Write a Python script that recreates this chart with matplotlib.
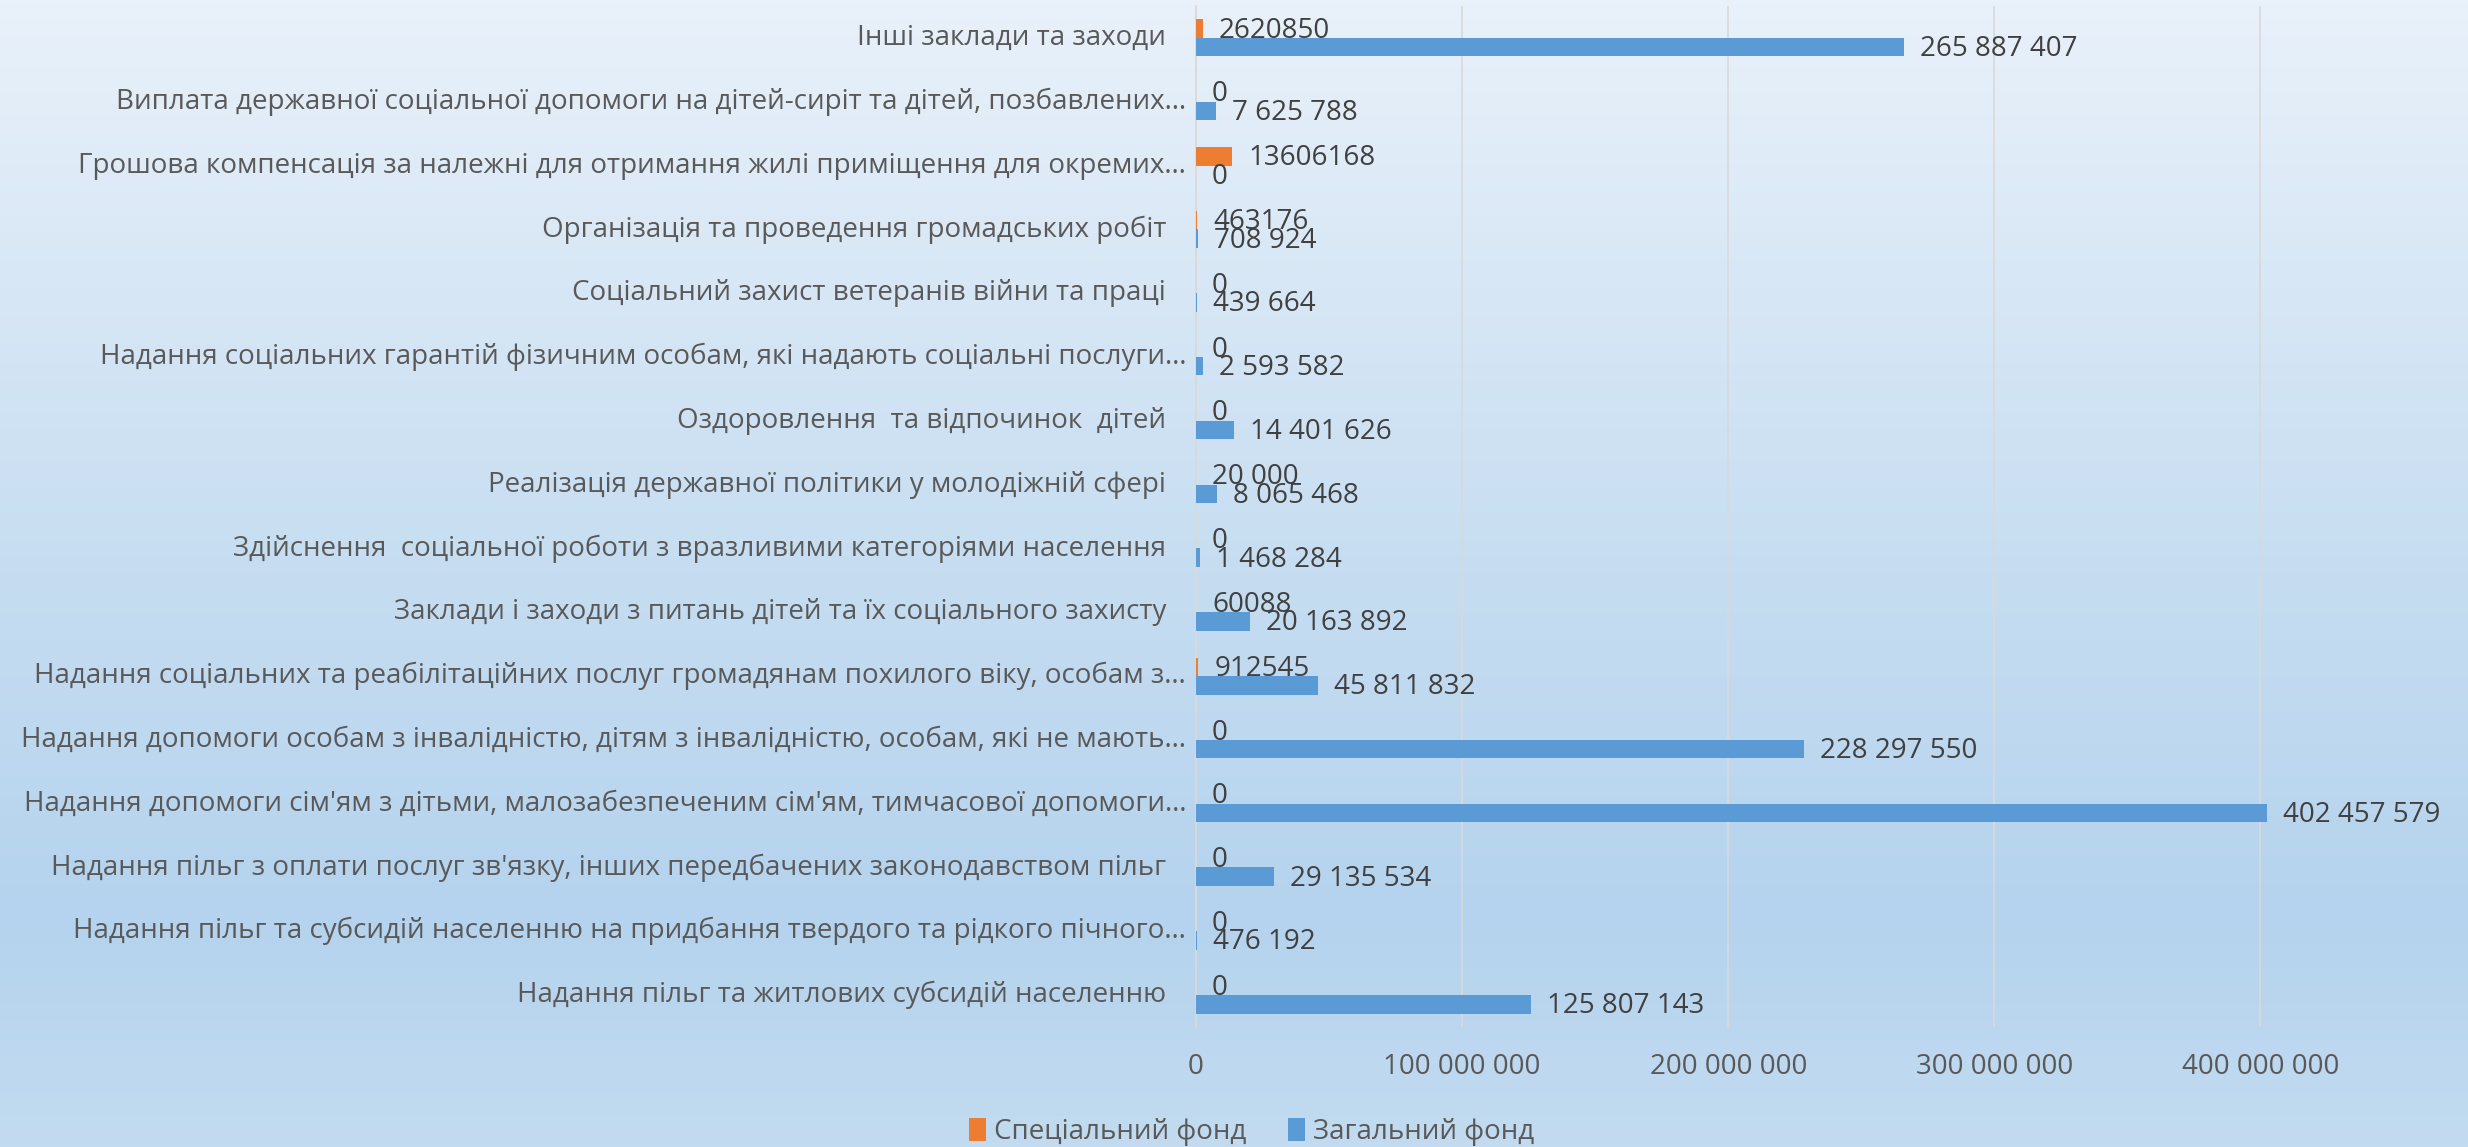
import numpy as np
import matplotlib
matplotlib.use('Agg')
import matplotlib.pyplot as plt
from matplotlib.colors import LinearSegmentedColormap
from matplotlib.ticker import FuncFormatter
import matplotlib.transforms as mtransforms

plt.rcParams['font.family'] = ['Open Sans', 'DejaVu Sans']

# categories, top to bottom as in the chart
categories = [
    'Інші заклади та заходи',
    'Виплата державної соціальної допомоги на дітей-сиріт та дітей, позбавлених…',
    'Грошова компенсація за належні для отримання жилі приміщення для окремих…',
    'Організація та проведення громадських робіт',
    'Соціальний захист ветеранів війни та праці',
    'Надання соціальних гарантій фізичним особам, які надають соціальні послуги…',
    'Оздоровлення  та відпочинок  дітей',
    'Реалізація державної політики у молодіжній сфері',
    'Здійснення  соціальної роботи з вразливими категоріями населення',
    'Заклади і заходи з питань дітей та їх соціального захисту',
    'Надання соціальних та реабілітаційних послуг громадянам похилого віку, особам з…',
    'Надання допомоги особам з інвалідністю, дітям з інвалідністю, особам, які не мають…',
    "Надання допомоги сім'ям з дітьми, малозабезпеченим сім'ям, тимчасової допомоги…",
    "Надання пільг з оплати послуг зв'язку, інших передбачених законодавством пільг",
    'Надання пільг та субсидій населенню на придбання твердого та рідкого пічного…',
    'Надання пільг та житлових субсидій населенню',
]

special_fund = [2620850, 0, 13606168, 463176, 0, 0, 0, 20000,
                0, 60088, 912545, 0, 0, 0, 0, 0]
special_text = ['2620850', '0', '13606168', '463176', '0', '0', '0', '20 000',
                '0', '60088', '912545', '0', '0', '0', '0', '0']
general_fund = [265887407, 7625788, 0, 708924, 439664, 2593582, 14401626, 8065468,
                1468284, 20163892, 45811832, 228297550, 402457579, 29135534,
                476192, 125807143]

x_ticks = [0, 100000000, 200000000, 300000000, 400000000]

c_orange = '#ED7D31'
c_blue = '#5B9BD5'
fs = 20

W, H = 2468, 1147
fig = plt.figure(figsize=(W / 100, H / 100), dpi=100)

# background gradient
bg = fig.add_axes([0, 0, 1, 1], zorder=-10)
cmap = LinearSegmentedColormap.from_list('bg', [(0.0, '#E9F1FA'), (0.5, '#C6DDF1'),
                                                (0.8, '#B5D3EE'), (1.0, '#C2DBF0')])
bg.imshow(np.linspace(0, 1, 256).reshape(-1, 1), aspect='auto', cmap=cmap,
          extent=[0, 1, 0, 1])
bg.axis('off')

ax = fig.add_axes([1196 / W, 1 - 1027 / H, 1 - 1196 / W, 1021 / H])
ax.set_facecolor('none')

y = np.arange(len(categories))
h = 0.29
ax.barh(y - h / 2, special_fund, height=h, color=c_orange, zorder=3,
        label='Спеціальний фонд')
ax.barh(y + h / 2, general_fund, height=h, color=c_blue, zorder=3,
        label='Загальний фонд')

ax.set_ylim(len(categories) - 0.5, -0.5)
ax.set_xlim(0, 478e6)
ax.set_xticks(x_ticks)
ax.xaxis.set_major_formatter(FuncFormatter(lambda v, p: f'{int(v):,}'.replace(',', ' ')))
ax.tick_params(axis='x', length=0, pad=19, labelsize=fs, labelcolor='#595959')
ax.set_yticks([])
ax.grid(axis='x', color='#D9D9D9', lw=1.2, zorder=0)
for s in ['top', 'right', 'bottom']:
    ax.spines[s].set_visible(False)
ax.spines['left'].set_color('#D9D9D9')
ax.spines['left'].set_linewidth(1.2)

# category labels
for i, name in enumerate(categories):
    off = -10 if name.endswith('…') else -30
    tr = ax.get_yaxis_transform() + mtransforms.ScaledTranslation(off / 100, 0, fig.dpi_scale_trans)
    ax.text(0, i, name, transform=tr, ha='right', va='center', fontsize=fs,
            color='#595959')

# data labels
lab_off = mtransforms.ScaledTranslation(16 / 100, 0, fig.dpi_scale_trans)
for i in range(len(categories)):
    ax.text(special_fund[i], i - h / 2 + 0.03, special_text[i],
            transform=ax.transData + lab_off, ha='left', va='center',
            fontsize=fs, color='#404040', zorder=5)
    ax.text(general_fund[i], i + h / 2 + 0.03, f'{general_fund[i]:,}'.replace(',', ' '),
            transform=ax.transData + lab_off, ha='left', va='center',
            fontsize=fs, color='#404040', zorder=5)

fig.legend(loc='center', bbox_to_anchor=(1252 / W, 1 - 1132 / H), ncol=2,
           frameon=False, fontsize=fs, labelcolor='#595959', handlelength=0.6,
           handleheight=0.9, handletextpad=0.3, columnspacing=1.5)

fig.savefig('out.png', dpi=100)
